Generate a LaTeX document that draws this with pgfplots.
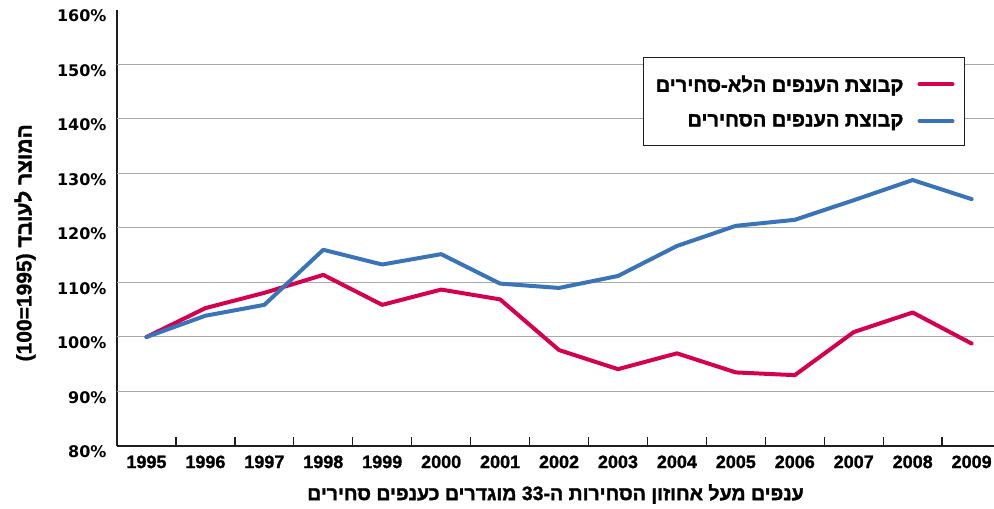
\documentclass[border=0pt]{standalone}
\usepackage{fontspec}
\setmainfont{Liberation Sans}
\newfontfamily\hebfont[Script=Hebrew, FakeBold=1.6]{Liberation Sans Bold}
\newfontfamily\numfont[FakeBold=1.2]{Liberation Sans Bold}
\newfontfamily\tickfont{DejaVu Sans Bold}
\TeXXeTstate=1
\usepackage{pgfplots}
\pgfplotsset{compat=1.18}

\definecolor{redline}{RGB}{214,0,80}
\definecolor{blueline}{RGB}{58,116,184}
\definecolor{gridgray}{RGB}{170,170,170}
\definecolor{axisblack}{RGB}{30,30,30}

% productivity per worker, 1995 = 100
\pgfplotstableread{
x year nontrade trade
0  1995 100.0 100.0
1  1996 105.3 103.9
2  1997 108.1 105.9
3  1998 111.4 116.0
4  1999 105.9 113.3
5  2000 108.7 115.2
6  2001 106.9 109.8
7  2002  97.6 109.0
8  2003  94.1 111.2
9  2004  97.0 116.7
10 2005  93.5 120.4
11 2006  93.0 121.5
12 2007 100.9 125.1
13 2008 104.5 128.8
14 2009  98.8 125.3
}\prodtable

\begin{document}
\begin{tikzpicture}
\begin{axis}[
    name=ax,
    scale only axis,
    width=877pt, height=436pt,
    xmin=-0.5, xmax=14.38,
    ymin=80, ymax=160,
    axis lines*=left,
    axis line style={axisblack, line width=1.8pt},
    xtick={0,...,14},
    xticklabels={1995,1996,1997,1998,1999,2000,2001,2002,2003,2004,2005,2006,2007,2008,2009},
    ytick={80,90,...,160},
    yticklabels={80\%,90\%,100\%,110\%,120\%,130\%,140\%,150\%,160\%},
    major tick length=0pt,
    xticklabel style={font=\numfont\fontsize{18}{18}\selectfont, yshift=-6pt},
    yticklabel style={font=\tickfont\fontsize{16}{16}\selectfont, xshift=-7pt, yshift=-6pt},
    extra y ticks={90,100,...,150},
    extra y tick labels={},
    extra y tick style={grid=major, major grid style={gridgray, line width=1pt}},
    extra x ticks={0.5,1.5,...,13.5},
    extra x tick labels={},
    extra x tick style={tick align=inside, major tick length=9pt, tick style={axisblack, line width=1.3pt}},
    every axis x label/.style={at={(rel axis cs:0.5,0)}, anchor=center, yshift=-48pt},
    every axis y label/.style={at={(rel axis cs:0,0.466)}, rotate=90, anchor=center, yshift=92pt},
    xlabel={\hebfont\fontsize{19.5}{19.5}\selectfont\beginR ענפים מעל אחוזון הסחירות ה-\beginL{\numfont 33}\endL{} מוגדרים כענפים סחירים\endR},
    ylabel={\hebfont\fontsize{21}{21}\selectfont\beginR המוצר לעובד \beginL{\numfont(100=1995)}\endL\endR},
    legend plot pos=right,
    legend cell align=right,
    legend image code/.code={\draw[#1, line width=4pt, line cap=round] (0pt,0pt) -- (33pt,0pt);},
    legend style={at={(rel axis cs:1,1)}, anchor=north east, xshift=-29pt, yshift=-47pt,
        draw=axisblack, line width=1pt, inner xsep=10pt, inner ysep=16pt, row sep=17pt, column sep=12pt,
        font=\hebfont\fontsize{20}{20}\selectfont},
]
\addplot[redline, line width=4pt, line join=round, line cap=round] table[x=x, y=nontrade] {\prodtable};
\addlegendentry{\beginR קבוצת הענפים הלא-סחירים\endR}
\addplot[blueline, line width=4pt, line join=round, line cap=round] table[x=x, y=trade] {\prodtable};
\addlegendentry{\beginR קבוצת הענפים הסחירים\endR}
\end{axis}
\pgfresetboundingbox
\path[use as bounding box] ([xshift=-117pt,yshift=-62pt]ax.south west) rectangle ([yshift=10pt]ax.north east);
\end{tikzpicture}
\end{document}
